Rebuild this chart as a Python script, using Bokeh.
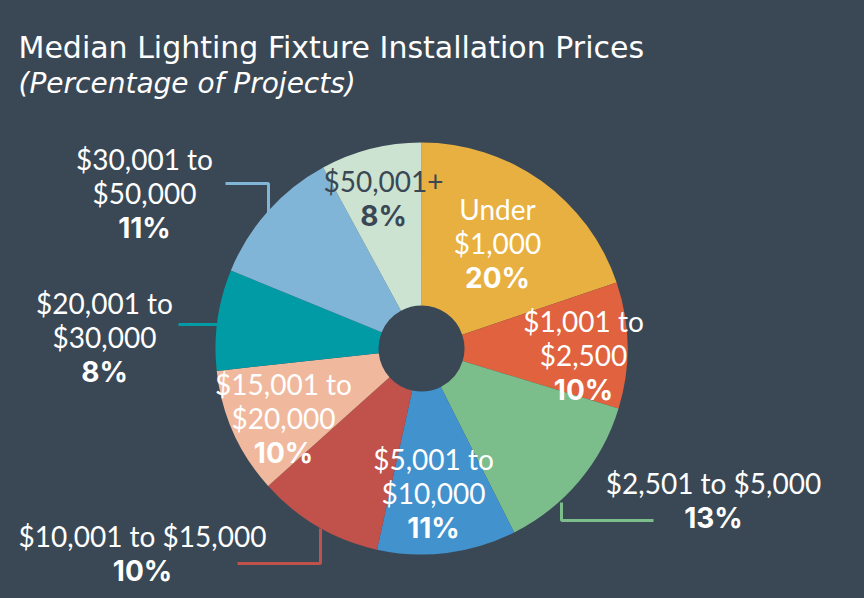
import math
from bokeh.plotting import figure
from bokeh.models import Range1d, ColumnDataSource
from bokeh.core.properties import value
from bokeh.embed import file_html
from bokeh.resources import INLINE

# ---------------- data ----------------
categories = [
    "Under\n$1,000",
    "$1,001 to\n$2,500",
    "$2,501 to $5,000",
    "$5,001 to\n$10,000",
    "$10,001 to $15,000",
    "$15,001 to\n$20,000",
    "$20,001 to\n$30,000",
    "$30,001 to\n$50,000",
    "$50,001+",
]
percents = [20, 10, 13, 11, 10, 10, 8, 11, 8]
colors = ["#E8B040", "#E0623E", "#7BBD8B", "#4292CE", "#C0514B",
          "#F0B99E", "#009BA5", "#80B5D7", "#CDE3D2"]
title_text = "Median Lighting Fixture Installation Prices"
subtitle_text = "(Percentage of Projects)"

# ---------------- layout (page pixels) ----------------
W, H = 864, 598
BG = "#3A4855"
DARK = "#3A4855"
CX, CY = 421, 348
R_OUT, R_IN = 206, 43

def Y(py):
    return H - py

# label anchors: (center x, first line y), text colour
label_pos = [(497, 208), (583, 320), (713, 482), (433, 458), (142, 535),
             (283, 383), (104, 302), (144, 158), (383, 180)]
label_col = ["white"] * 8 + [DARK]
leaders = [None, None,
           [(653, 520), (561, 520), (561, 502)],
           None,
           [(237, 563), (320, 563), (320, 528)],
           None,
           [(178, 324), (218, 324)],
           [(225, 183), (268, 183), (268, 213)],
           None]

p = figure(width=W, height=H, x_range=Range1d(0, W), y_range=Range1d(0, H),
           output_backend="svg", toolbar_location=None, x_axis_type=None, y_axis_type=None,
           min_border=0)
p.grid.visible = False
p.outline_line_color = None
p.background_fill_color = BG
p.border_fill_color = BG

# wedges
total = sum(percents)
starts, ends = [], []
a = math.pi / 2
for v in percents:
    b = a - v / total * 2 * math.pi
    starts.append(b)
    ends.append(a)
    a = b
src = ColumnDataSource(dict(start=starts, end=ends, color=colors))
p.annular_wedge(x=CX, y=Y(CY), inner_radius=R_IN, outer_radius=R_OUT,
                start_angle="start", end_angle="end", fill_color="color",
                line_color=None, source=src)

# leader lines
for pts, col in zip(leaders, colors):
    if pts:
        p.line([q[0] for q in pts], [Y(q[1]) for q in pts], line_color=col, line_width=3)

# labels
LINE = 34
for cat, pct, (lx, ly), col in zip(categories, percents, label_pos, label_col):
    lines = cat.split("\n")
    for i, t in enumerate(lines):
        p.text(x=[lx], y=[Y(ly + i * LINE)], text=[t], text_align="center",
               text_baseline="middle", text_color=col, text_font=value("Lato"),
               text_font_size="28px")
    p.text(x=[lx], y=[Y(ly + len(lines) * LINE + 1)], text=[f"{pct}%"], text_align="center",
           text_baseline="middle", text_color=col, text_font=value("Inter"),
           text_font_style="bold", text_font_size="28px")

# title
p.text(x=[18], y=[Y(47)], text=[title_text], text_align="left", text_baseline="alphabetic",
       text_color="white", text_font=value("DejaVu Sans"), text_font_size="30px")
p.text(x=[18], y=[Y(83)], text=[subtitle_text], text_align="left", text_baseline="alphabetic",
       text_color="white", text_font=value("DejaVu Sans"), text_font_style="italic",
       text_font_size="28px")

html = file_html(p, INLINE)
html = html.replace("<head>", "<head><style>html,body{background:%s;margin:0;padding:0;overflow:hidden;}</style>" % BG, 1)
open("out.html", "w").write(html)
